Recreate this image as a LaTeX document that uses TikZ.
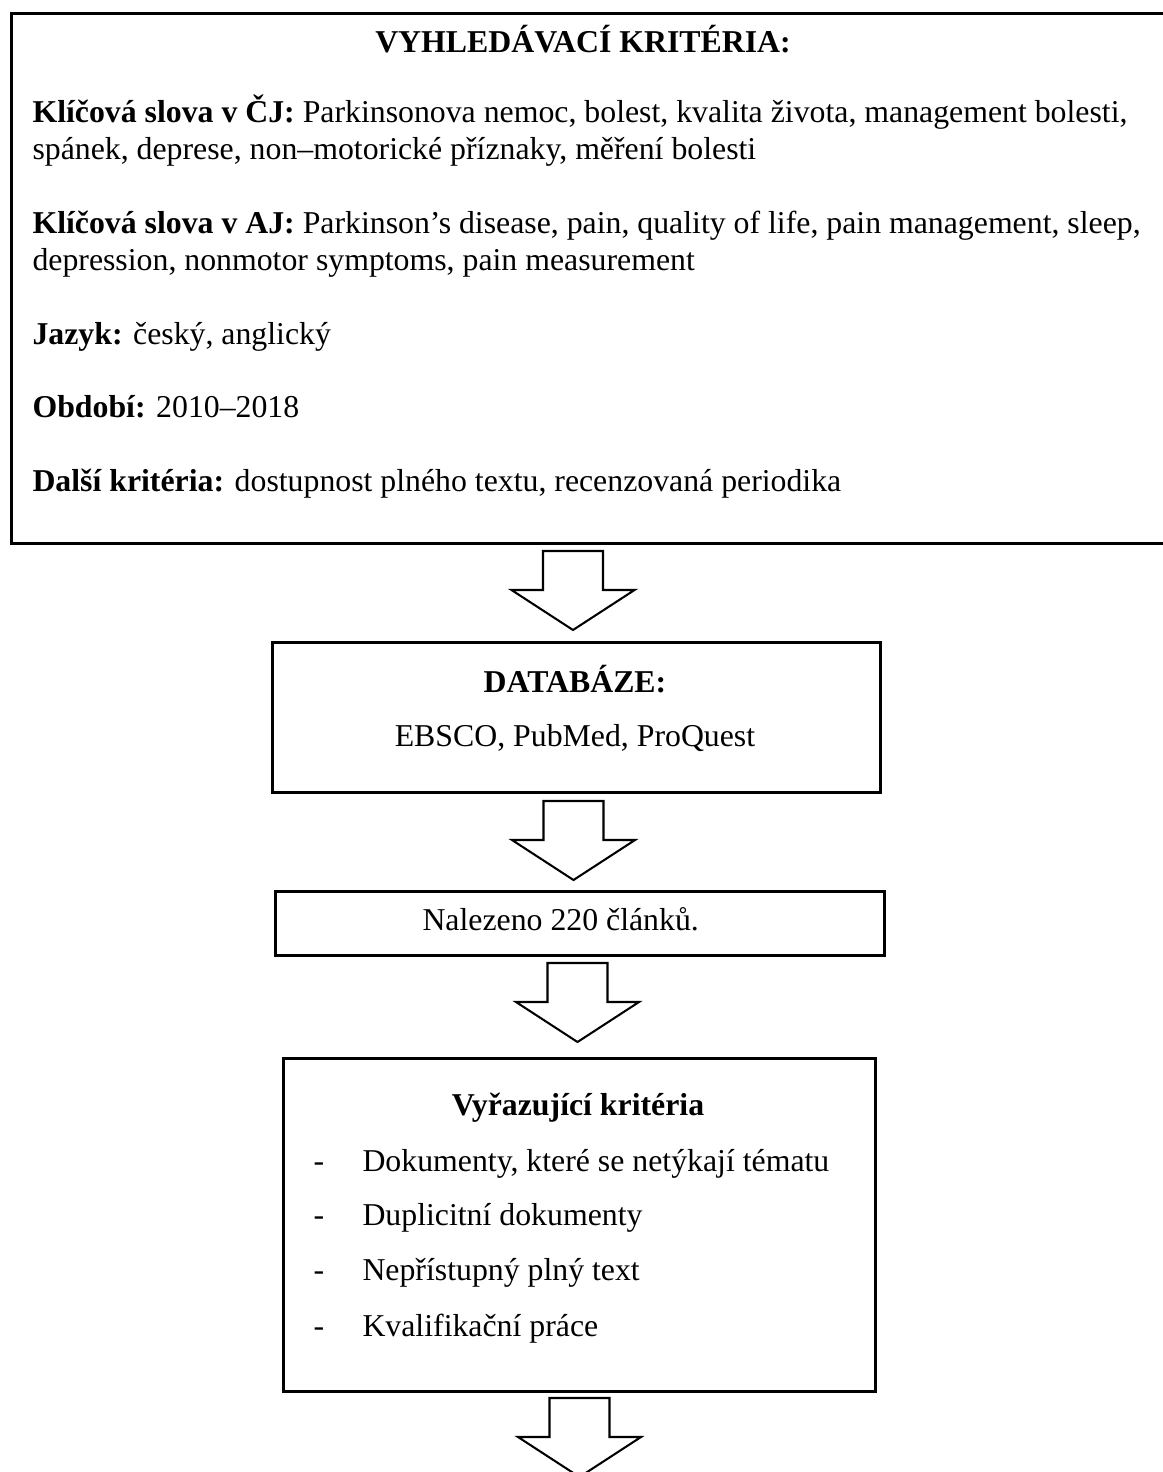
\documentclass[tikz,border=0pt]{standalone}
\usepackage{fontspec}
\setmainfont{Liberation Serif}
\begin{document}
\begin{tikzpicture}[x=0.39pt,y=-0.39pt,
  box/.style={draw, line width=1.15pt, inner sep=0pt, anchor=north west},
  ltxt/.style={inner sep=0pt, anchor=base west, font=\fontsize{12.4}{14}\selectfont},
  ctxt/.style={inner sep=0pt, anchor=base, font=\fontsize{12.4}{14}\selectfont},
  btxt/.style={inner sep=0pt, anchor=base, font=\fontsize{12.4}{14}\selectfont\bfseries},
  blockarrow/.pic={\draw[line width=0.8pt, line join=miter, fill=white]
     (-30,0) -- (30,0) -- (30,39) -- (61.5,39) -- (0,79) -- (-61.5,39) -- (-30,39) -- cycle;}]
\useasboundingbox (0,0) rectangle (1163,1472);
\clip (0,0) rectangle (1163,1472);
\fill[white] (0,0) rectangle (1163,1472);

% box 1: search criteria
\node[box, minimum width={1175*0.39pt}, minimum height={530*0.39pt}] (crit) at (10,12) {};
\node[btxt] (critT) at (583,53) {VYHLEDÁVACÍ KRITÉRIA:};
\node[ltxt] (c1) at (32,123) {\textbf{Klíčová slova v ČJ:} Parkinsonova nemoc, bolest, kvalita života, management bolesti,};
\node[ltxt] (c2) at (32,160) {spánek, deprese, non–motorické příznaky, měření bolesti};
\node[ltxt] (c3) at (32,234) {\textbf{Klíčová slova v AJ:} Parkinson’s disease, pain, quality of life, pain management, sleep,};
\node[ltxt] (c4) at (32,271) {depression, nonmotor symptoms, pain measurement};
\node[ltxt] (c5) at (32,345) {\textbf{Jazyk:} český, anglický};
\node[ltxt] (c6) at (32,418) {\textbf{Období:} 2010–2018};
\node[ltxt] (c7) at (32,492) {\textbf{Další kritéria:} dostupnost plného textu, recenzovaná periodika};

% arrow 1
\pic (ar1) at (573,551) {blockarrow};

% box 2: databases
\node[box, minimum width={608*0.39pt}, minimum height={150*0.39pt}] (db) at (271,641) {};
\node[btxt] (dbT) at (575,692) {DATABÁZE:};
\node[ctxt] (dbL) at (575,746) {EBSCO, PubMed, ProQuest};

% arrow 2
\pic (ar2) at (573.5,801) {blockarrow};

% box 3: found
\node[box, minimum width={609*0.39pt}, minimum height={64*0.39pt}] (found) at (274,890) {};
\node[ltxt] (foundT) at (422,930) {Nalezeno 220 článků.};

% arrow 3
\pic (ar3) at (577.5,963) {blockarrow};

% box 4: exclusion criteria
\node[box, minimum width={592*0.39pt}, minimum height={333*0.39pt}] (excl) at (282,1057) {};
\node[btxt] (exclT) at (578,1115) {Vyřazující kritéria};
\node[ltxt] (d1) at (313,1171) {-};
\node[ltxt] (e1) at (362,1171) {Dokumenty, které se netýkají tématu};
\node[ltxt] (d2) at (313,1225) {-};
\node[ltxt] (e2) at (362,1225) {Duplicitní dokumenty};
\node[ltxt] (d3) at (313,1280) {-};
\node[ltxt] (e3) at (362,1280) {Nepřístupný plný text};
\node[ltxt] (d4) at (313,1336) {-};
\node[ltxt] (e4) at (362,1336) {Kvalifikační práce};

% arrow 4
\pic (ar4) at (579.5,1398) {blockarrow};
\end{tikzpicture}
\end{document}
